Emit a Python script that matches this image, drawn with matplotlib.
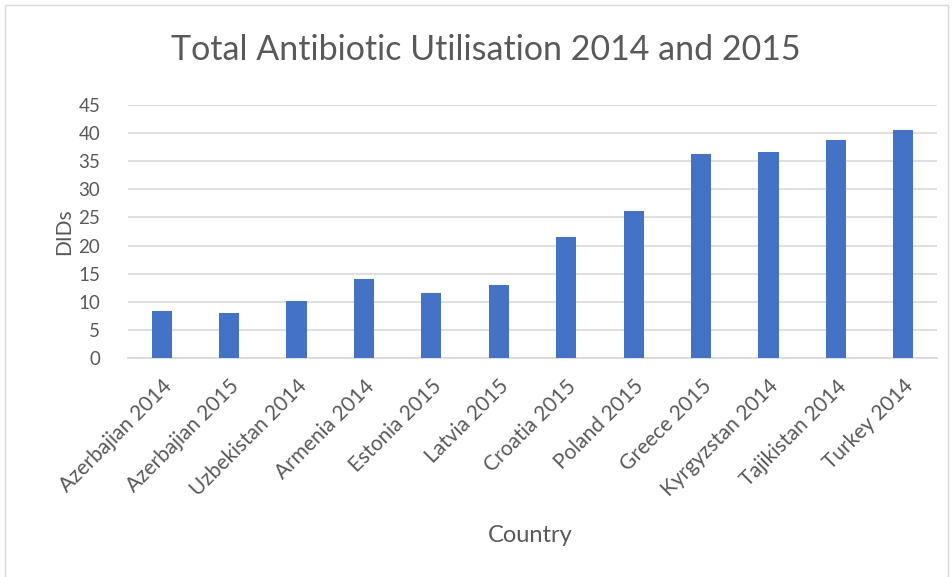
import matplotlib.pyplot as plt
from matplotlib.patches import Rectangle

# data
labels = ['Azerbajian 2014', 'Azerbajian 2015', 'Uzbekistan 2014', 'Armenia 2014',
          'Estonia 2015', 'Latvia 2015', 'Croatia 2015', 'Poland 2015',
          'Greece 2015', 'Kyrgyzstan 2014', 'Tajikistan 2014', 'Turkey 2014']
dids = [8.3, 8.0, 10.1, 14.1, 11.6, 13.0, 21.6, 26.2, 36.3, 36.6, 38.8, 40.6]
yticks = [0, 5, 10, 15, 20, 25, 30, 35, 40, 45]

plt.rcParams['font.family'] = ['Lato', 'DejaVu Sans']
grey = '#595959'

fig = plt.figure(figsize=(9.52, 5.77), dpi=100)
ax = fig.add_axes([128 / 952, 1 - 358 / 577, (937 - 128) / 952, (358 - 105) / 577])

x = range(len(labels))
ax.bar(x, dids, width=0.3, color='#4472C4', zorder=3)
ax.set_xlim(-0.5, len(labels) - 0.5)
ax.set_ylim(0, 45)
ax.set_yticks(yticks)
ax.set_xticks(list(x))
ax.set_xticklabels(labels, rotation=45, ha='right', rotation_mode='anchor',
                   fontsize=15, color=grey)
ax.tick_params(axis='y', labelsize=13.5, labelcolor=grey, length=0, pad=20)
ax.tick_params(axis='x', length=0, pad=13)
ax.grid(axis='y', color='#D9D9D9', linewidth=1.2, zorder=0)
for s in ['top', 'right', 'left']:
    ax.spines[s].set_visible(False)
ax.spines['bottom'].set_color('#D9D9D9')
ax.spines['bottom'].set_linewidth(1.2)

ax.set_ylabel('DIDs', fontsize=15, color=grey, labelpad=3)
fig.text(530 / 952, 1 - 536 / 577, 'Country', fontsize=17, color=grey,
         ha='center', va='center')
fig.text(486 / 952, 1 - 50 / 577, 'Total Antibiotic Utilisation 2014 and 2015',
         fontsize=24.5, color=grey, ha='center', va='center')

# chart frame
fig.patches.append(Rectangle((5 / 952, -0.05), 943 / 952, 1 - 5 / 577 + 0.05,
                             transform=fig.transFigure, fill=False,
                             edgecolor='#D9D9D9', linewidth=1))

fig.savefig('out.png', dpi=100)
